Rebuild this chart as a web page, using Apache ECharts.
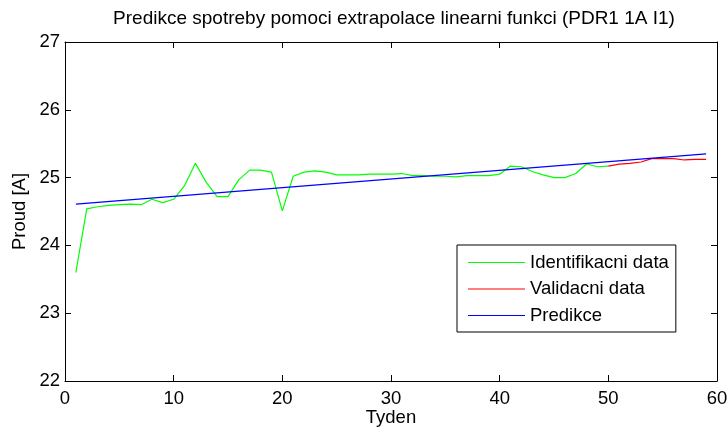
<!DOCTYPE html>
<html>
<head>
<meta charset="utf-8">
<script src="https://cdn.jsdelivr.net/npm/echarts@6/dist/echarts.min.js"></script>
<style>
html,body{margin:0;padding:0;background:#fff;}
#chart{width:728px;height:429px;}
</style>
</head>
<body>
<div id="chart"></div>
<script>
// Week numbers and values
const idWeeks = [1,2,3,4,5,6,7,8,9,10,11,12,13,14,15,16,17,18,19,20,21,22,23,24,25,26,27,28,29,30,31,32,33,34,35,36,37,38,39,40,41,42,43,44,45,46,47,48,49,50];
const idValues = [23.60,24.54,24.57,24.59,24.60,24.61,24.60,24.68,24.63,24.68,24.88,25.21,24.93,24.72,24.72,24.97,25.11,25.11,25.08,24.51,25.02,25.08,25.10,25.08,25.04,25.04,25.04,25.05,25.05,25.05,25.06,25.03,25.03,25.02,25.02,25.01,25.03,25.03,25.03,25.05,25.17,25.16,25.09,25.04,25.00,25.00,25.06,25.20,25.16,25.17];
const valWeeks = [50,51,52,53,54,55,56,57,58,59];
const valValues = [25.17,25.20,25.21,25.23,25.28,25.28,25.28,25.26,25.27,25.27];
const predWeeks = [1,59];
const predValues = [24.61,25.35];
const xTicks = [0,10,20,30,40,50,60];
const yTicks = [22,23,24,25,26,27];

const FONT = 'Liberation Sans, Arial, Helvetica, sans-serif';
const FS = 18.5;

function pairs(xs, ys){ return xs.map((x,i)=>[x, ys[i]]); }

const chart = echarts.init(document.getElementById('chart'), null, {renderer:'canvas'});
const axisLine = {show:true, onZero:false, lineStyle:{color:'#000', width:1}};
const tick = {show:true, inside:true, length:6, lineStyle:{color:'#000', width:1}};
chart.setOption({
  animation:false,
  backgroundColor:'#fff',
  textStyle:{fontFamily:FONT},
  title:{
    text:'Predikce spotreby pomoci extrapolace linearni funkci (PDR1 1A I1)',
    left:389, top:4, textAlign:'center',
    textStyle:{fontFamily:FONT, fontSize:19, fontWeight:'normal', color:'#000'}
  },
  grid:{left:65, right:11, top:42, bottom:48, outerBoundsMode:'none', containLabel:false},
  legend:{
    orient:'vertical', left:457, top:245,
    data:['Identifikacni data','Validacni data','Predikce'],
    icon:'rect', itemWidth:57, itemHeight:1, itemGap:7.5,
    padding:[8,7,7,11],
    borderColor:'#000', borderWidth:1, backgroundColor:'#fff',
    textStyle:{fontFamily:FONT, fontSize:FS, color:'#000'}
  },
  xAxis:[{
    type:'value', min:xTicks[0], max:xTicks[xTicks.length-1], interval:10,
    name:'Tyden', nameLocation:'middle', nameGap:27, nameMoveOverlap:false,
    nameTextStyle:{fontFamily:FONT, fontSize:FS, color:'#000'},
    axisLine:axisLine, axisTick:tick, splitLine:{show:false},
    axisLabel:{fontFamily:FONT, fontSize:FS, color:'#000', margin:8}
  },{
    type:'value', position:'top', min:xTicks[0], max:xTicks[xTicks.length-1], interval:10,
    axisLine:axisLine, axisTick:tick, splitLine:{show:false}, axisLabel:{show:false}
  }],
  yAxis:[{
    type:'value', min:yTicks[0], max:yTicks[yTicks.length-1], interval:1,
    name:'Proud [A]', nameLocation:'middle', nameGap:36, nameMoveOverlap:false,
    nameTextStyle:{fontFamily:FONT, fontSize:FS, color:'#000'},
    axisLine:axisLine, axisTick:tick, splitLine:{show:false},
    axisLabel:{fontFamily:FONT, fontSize:FS, color:'#000', margin:5}
  },{
    type:'value', position:'right', min:yTicks[0], max:yTicks[yTicks.length-1], interval:1,
    axisLine:axisLine, axisTick:tick, splitLine:{show:false}, axisLabel:{show:false}
  }],
  series:[
    {name:'Identifikacni data', type:'line', data:pairs(idWeeks, idValues), symbol:'none',
     lineStyle:{color:'#00ff00', width:1.2}, itemStyle:{color:'#00ff00'}},
    {name:'Validacni data', type:'line', data:pairs(valWeeks, valValues), symbol:'none',
     lineStyle:{color:'#ff0000', width:1.2}, itemStyle:{color:'#ff0000'}},
    {name:'Predikce', type:'line', data:pairs(predWeeks, predValues), symbol:'none',
     lineStyle:{color:'#0000ff', width:1.2}, itemStyle:{color:'#0000ff'}}
  ]
});
</script>
</body>
</html>
